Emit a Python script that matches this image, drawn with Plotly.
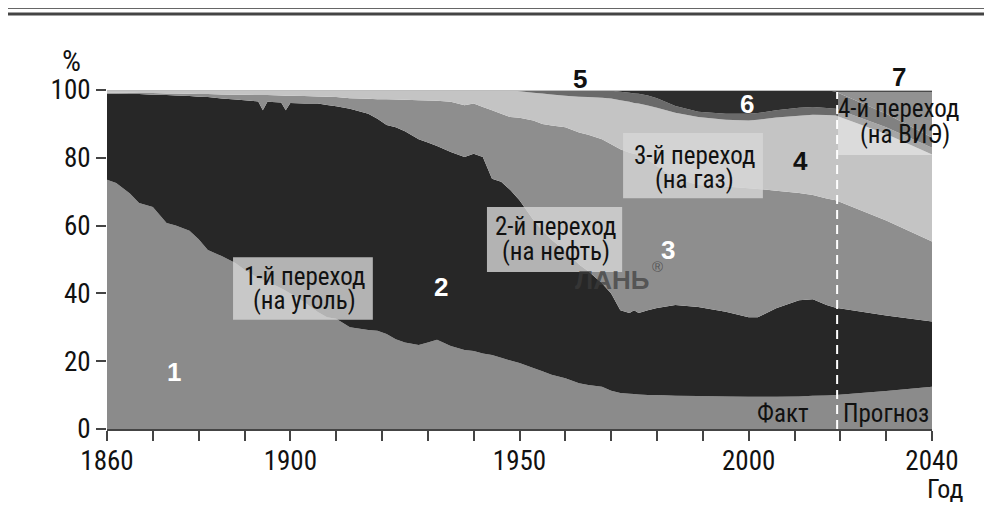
import plotly.graph_objects as go

# ---------------- data (shares of world primary energy, %) ----------------
years = [1860, 1862, 1865, 1867, 1870, 1873, 1875, 1878, 1880, 1882, 1885, 1888,
         1890, 1893, 1894, 1895, 1898, 1899, 1900, 1903, 1906, 1908, 1910, 1913,
         1917, 1919, 1921, 1923, 1925, 1928, 1930, 1932, 1935, 1938, 1940, 1942,
         1944, 1946, 1948, 1950, 1953, 1955, 1957, 1960, 1963, 1965, 1968, 1970,
         1972, 1974, 1975, 1976, 1978, 1980, 1984, 1989, 1995, 2000, 2002, 2006,
         2011, 2014, 2017, 2019, 2030, 2040]

biomass = [73.5, 72.6, 69.5, 66.7, 65.5, 60.8, 60.0, 58.5, 56.0, 52.8, 51.0, 49.0,
           47.0, 44.5, 44.0, 43.5, 41.5, 40.8, 40.0, 37.5, 34.5, 33.0, 32.5, 30.0,
           29.2, 29.0, 28.0, 26.5, 25.5, 24.8, 25.5, 26.3, 24.5, 23.3, 23.0, 22.3,
           21.8, 21.0, 20.2, 19.5, 18.0, 17.0, 16.0, 15.0, 13.5, 13.0, 12.5, 11.3,
           10.6, 10.4, 10.3, 10.2, 10.0, 10.0, 9.8, 9.7, 9.6, 9.5, 9.5, 9.5,
           9.6, 9.8, 9.9, 10.0, 11.2, 12.5]

coal = [25.4, 26.3, 29.3, 32.1, 33.1, 37.7, 38.4, 39.7, 42.0, 45.1, 46.5, 48.2,
        50.0, 52.1, 50.0, 53.0, 54.8, 53.2, 56.2, 58.5, 61.5, 62.6, 62.7, 64.5,
        63.8, 62.5, 61.7, 62.5, 62.3, 60.7, 59.0, 57.2, 57.2, 56.9, 58.2, 57.9,
        52.0, 51.9, 50.3, 48.0, 43.7, 41.5, 39.8, 37.5, 35.0, 33.5, 30.5, 28.7,
        24.4, 23.8, 24.7, 24.0, 25.0, 25.7, 26.8, 26.3, 25.0, 23.5, 23.5, 26.1,
        28.4, 28.5, 26.7, 25.8, 22.3, 19.2]

oil = [0.3, 0.3, 0.4, 0.3, 0.5, 0.5, 0.6, 0.7, 0.8, 0.9, 1.2, 1.4,
       1.6, 1.9, 4.5, 2.0, 2.1, 4.3, 2.1, 2.2, 2.1, 2.4, 2.7, 3.1,
       4.4, 5.8, 7.6, 8.2, 9.3, 11.5, 12.4, 13.3, 14.8, 15.3, 14.8, 14.8,
       20.2, 20.1, 21.5, 24.3, 29.3, 31.5, 33.7, 36.5, 39.0, 40.3, 42.5, 44.0,
       47.5, 47.3, 46.2, 46.6, 44.5, 41.8, 37.4, 36.0, 36.9, 38.0, 37.8, 34.7,
       31.6, 30.7, 31.4, 31.7, 28.0, 23.6]

gas = [0.8, 0.8, 0.8, 0.9, 0.9, 1.0, 1.0, 1.1, 1.2, 1.2, 1.3, 1.4,
       1.4, 1.5, 1.5, 1.5, 1.6, 1.7, 1.7, 1.8, 1.9, 2.0, 2.1, 2.4,
       2.6, 2.7, 2.7, 2.8, 2.9, 3.0, 3.1, 3.2, 3.5, 4.5, 4.0, 5.0,
       6.0, 7.0, 8.0, 7.8, 8.2, 9.0, 9.2, 9.3, 10.5, 11.1, 12.2, 13.5,
       14.5, 15.0, 15.0, 15.2, 15.9, 17.3, 19.3, 20.0, 19.7, 20.0, 20.4, 21.6,
       22.8, 23.7, 24.6, 25.0, 25.5, 25.7]

hydro = [0] * 39 + [0.4, 0.8, 1.0, 1.3, 1.7, 2.0, 2.1, 2.3, 2.3,
                    2.5, 2.7, 2.8, 2.9, 3.0, 2.8, 2.0, 1.6, 1.8, 2.0, 2.0, 2.1,
                    2.4, 2.3, 2.1, 2.0, 2.0, 2.0]

nuclear = [0] * 47 + [0.2,
                      0.5, 0.8, 1.0, 1.1, 1.6, 2.4, 4.7, 6.4, 7.0, 7.0, 6.8, 6.0,
                      5.2, 5.0, 5.3, 5.0, 4.0, 3.0]

renewables = [0] * 63 + [0.5, 7.0, 14.0]

series_names = ["1", "2", "3", "4", "5", "6", "7"]
x_tick_values = list(range(1860, 2041, 10))
x_tick_labels = ["1860", "", "", "", "1900", "", "", "", "", "1950", "", "", "", "",
                 "2000", "", "", "", "2040"]
y_tick_values = [0, 20, 40, 60, 80, 100]
forecast_start = 2019.3

# ---------------- styles ----------------
NARROW = "Roboto Condensed, Liberation Sans Narrow, Arial Narrow, Roboto, sans-serif"
BOLD = "Liberation Sans, Arial, sans-serif"
fills = ["#8b8b8b", "#272727", "#8e8e8e", "#c4c4c4", "#6a6a6a", "#2d2d2d", "#4a4a4a"]

fig = go.Figure()
for name, vals, col in zip(series_names,
                           [biomass, coal, oil, gas, hydro, nuclear, renewables],
                           fills):
    fig.add_trace(go.Scatter(x=years, y=vals, stackgroup="one", mode="none",
                             fillcolor=col, name=name, hoverinfo="skip",
                             line=dict(width=0)))

shapes = []
shapes.append(dict(type="line", xref="x", yref="y", x0=1860, x1=2040, y0=100, y1=100,
                   line=dict(color="#bdbdbd", width=2), layer="above"))
boxes = [
    (1887.5, 1918.0, 32.2, 50.7, "rgba(215,215,215,0.8)"),
    (1942.9, 1972.4, 46.3, 65.5, "rgba(215,215,215,0.8)"),
    (1972.6, 2003.1, 68.1, 87.3, "rgba(215,215,215,0.8)"),
    (2019.5, 2040.0, 80.8, 99.4, "rgba(255,255,255,0.4)"),
]
for x0, x1, y0, y1, c in boxes:
    shapes.append(dict(type="rect", xref="x", yref="y", x0=x0, x1=x1, y0=y0, y1=y1,
                       fillcolor=c, line=dict(width=0), layer="above"))
shapes.append(dict(type="line", xref="x", yref="y", x0=forecast_start, x1=forecast_start,
                   y0=0, y1=99.4, line=dict(color="white", width=2, dash="9px,6px"),
                   layer="above"))
# page rules at the very top
for yy, w, c in [(1.2425, 2, "#333333"), (1.2245, 3, "#444444")]:
    shapes.append(dict(type="line", xref="paper", yref="paper", x0=-0.13, x1=1.08,
                       y0=yy, y1=yy, line=dict(color=c, width=w)))

ann = []
def txt(x, y, s, size, color="#111111", family=NARROW, ref="data"):
    r = ("x", "y") if ref == "data" else ("paper", "paper")
    ann.append(dict(x=x, y=y, xref=r[0], yref=r[1], text=s, showarrow=False,
                    font=dict(size=size, color=color, family=family),
                    xanchor="center", yanchor="middle"))

for x, y, s in [(1903.0, 45.1, "1-й переход"), (1903.0, 37.8, "(на уголь)"),
                (1957.9, 59.6, "2-й переход"), (1957.9, 52.5, "(на нефть)"),
                (1988.2, 80.8, "3-й переход"), (1988.2, 73.5, "(на газ)"),
                (2032.6, 94.4, "4-й переход"), (2034.1, 87.0, "(на ВИЭ)")]:
    txt(x, y, s, 25)

for x, y, s, c in [(1874.6, 16.8, "1", "white"), (1932.9, 41.9, "2", "white"),
                   (1982.4, 52.8, "3", "white"), (2011.2, 79.1, "4", "#111111"),
                   (1999.6, 95.9, "6", "white")]:
    txt(x, y, "<b>" + s + "</b>", 26, color=c, family=BOLD)
for x, y, s in [(0.5733, 1.0324, "5"), (0.96, 1.0383, "7")]:
    txt(x, y, "<b>" + s + "</b>", 26, color="#111111", family=BOLD, ref="paper")

txt(2007.5, 4.7, "Факт", 25)
txt(2030.0, 4.7, "Прогноз", 25)
txt(-0.0436, 1.088, "%", 30, ref="paper")
txt(1.0158, -0.178, "Год", 26, ref="paper")
txt(1970.2, 44.0, "<b>ЛАНЬ</b>", 26, color="rgba(60,60,60,0.7)", family=BOLD)
txt(1980.0, 48.0, "®", 15, color="rgba(60,60,60,0.7)", family=BOLD)

# the page adds an 8 px body margin, so the figure is 8 px smaller
fig.update_layout(
    width=984, height=499,
    margin=dict(l=99, r=60, t=82, b=78),
    paper_bgcolor="white", plot_bgcolor="white",
    showlegend=False,
    shapes=shapes, annotations=ann,
    xaxis=dict(range=[1860, 2040], tickvals=x_tick_values, ticktext=x_tick_labels,
               ticks="outside", ticklen=10, tickwidth=1.5, tickcolor="#444444",
               showline=True, linecolor="#444444", linewidth=1.5,
               showgrid=False, zeroline=False, ticklabelstandoff=-3,
               tickfont=dict(size=27, family=NARROW, color="#111111")),
    yaxis=dict(range=[0, 100], tickvals=y_tick_values,
               ticks="outside", ticklen=10, tickwidth=1.5, tickcolor="#444444",
               showline=False, showgrid=False, zeroline=False,
               tickfont=dict(size=27, family=NARROW, color="#111111")),
)

fig.write_html("out.html")
